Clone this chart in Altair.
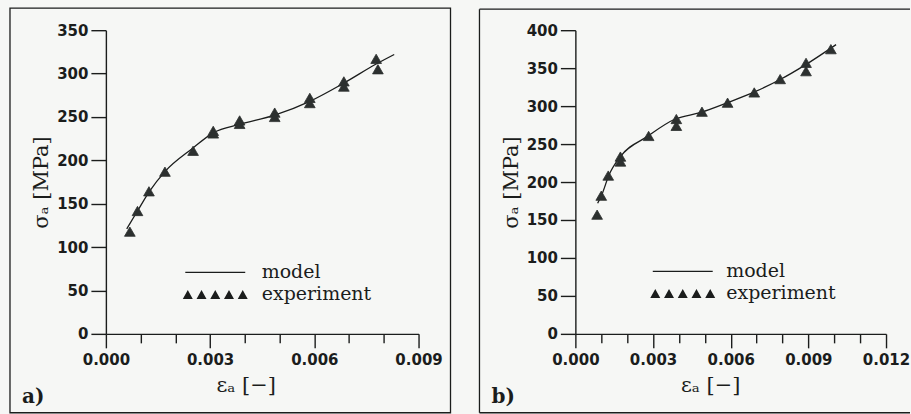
import altair as alt
import pandas as pd

# ---------------- data ----------------
# panel a
eps_a_model = [0.0006, 0.0009, 0.00125, 0.0017, 0.0025, 0.0031, 0.00385, 0.00486, 0.00587, 0.00685, 0.00778, 0.0083]
sig_a_model = [121, 141, 164, 187, 214, 232, 241.5, 252, 268, 289, 311, 322]
eps_a_exp = [0.00069, 0.00091, 0.00124, 0.0017, 0.00251, 0.00309, 0.00309, 0.00385, 0.00385,
             0.00486, 0.00486, 0.00587, 0.00587, 0.00685, 0.00685, 0.00778, 0.00783]
sig_a_exp = [117.8, 141.6, 164.3, 186.9, 211, 234, 231, 246, 242,
             255, 250, 272, 266, 291, 285, 317, 305]

# panel b
eps_b_model = [0.00086, 0.00103, 0.00129, 0.00174, 0.00277, 0.00386, 0.00482, 0.00591, 0.00694, 0.00791, 0.00887, 0.01007]
sig_b_model = [172, 184, 208.5, 233.5, 259.8, 283, 291.3, 304.9, 319, 335, 354, 381]
eps_b_exp = [0.00084, 0.001, 0.00127, 0.00174, 0.00174, 0.00283, 0.0039, 0.0039, 0.00489,
             0.00588, 0.00691, 0.00791, 0.00891, 0.00891, 0.00987]
sig_b_exp = [157, 182, 208.5, 233.5, 227, 260.7, 283, 274, 292.6,
             304.5, 318, 335.6, 357, 346, 375]

x_ticks_a = [0.000, 0.001, 0.002, 0.003, 0.004, 0.005, 0.006, 0.007, 0.008, 0.009]
x_ticks_b = [0.000, 0.001, 0.002, 0.003, 0.004, 0.005, 0.006, 0.007, 0.008, 0.009, 0.010, 0.011, 0.012]
y_ticks_a = [0, 50, 100, 150, 200, 250, 300, 350]
y_ticks_b = [0, 50, 100, 150, 200, 250, 300, 350, 400]

legend_labels = ["model", "experiment"]
panel_labels = ["a)", "b)"]

# ---------------- styling ----------------
INK = "#1b1d1c"
TRI_FILL = "#2c302f"
tri_centers = [-5.5, -2.75, 0, 2.75, 5.5]
TRI_PATH = "".join(f"M{c-1.0},0.9L{c},-0.9L{c+1.0},0.9Z" for c in tri_centers)
LINE_PATH = "M-6,-0.13L6,-0.13L6,0.13L-6,0.13Z"

MAJOR_TEST = "round(datum.value*1000) % 3 == 0"
LABEL_EXPR = f"({MAJOR_TEST}) ? format(datum.value, '.3f') : ''"


def panel(eps_m, sig_m, eps_e, sig_e, xmax, ymax, xticks, yticks, w, h,
          label, frame, legend_x, legend_y, label_offset, title_x):
    x_scale = alt.Scale(domain=[0, xmax], nice=False)
    y_scale = alt.Scale(domain=[0, ymax], nice=False)
    x_axis = alt.Axis(values=xticks, labelExpr=LABEL_EXPR,
                      tickSize={"condition": {"test": MAJOR_TEST, "value": 14}, "value": 9},
                      labelPadding=5,
                      title="εₐ [−]", titleX=title_x, titlePadding=7, grid=False,
                      labelFlush=False, labelOverlap=False)
    y_axis = alt.Axis(values=yticks, tickSize=15, labelPadding=3, title="σₐ [MPa]",
                      titlePadding=5, grid=False, labelFlush=False)

    model_df = pd.DataFrame({"eps": eps_m, "sig": sig_m})
    exp_df = pd.DataFrame({"eps": eps_e, "sig": sig_e})

    line = alt.Chart(model_df).mark_line(interpolate="monotone", color=INK, strokeWidth=1.3).encode(
        x=alt.X("eps:Q", scale=x_scale, axis=x_axis),
        y=alt.Y("sig:Q", scale=y_scale, axis=y_axis),
    )
    pts = alt.Chart(exp_df).mark_point(shape="triangle-up", filled=True, fill=TRI_FILL,
                                       stroke=TRI_FILL, strokeWidth=0.8, size=115, opacity=1).encode(
        x=alt.X("eps:Q", scale=x_scale, axis=x_axis),
        y=alt.Y("sig:Q", scale=y_scale, axis=y_axis),
    )
    leg = alt.Chart(pd.DataFrame({"series": legend_labels})).mark_point(
        filled=True, fill=INK, stroke=INK, strokeWidth=1.0, clip=True, opacity=1
    ).encode(
        x=alt.value(-500), y=alt.value(-500),
        shape=alt.Shape("series:N",
                        scale=alt.Scale(domain=legend_labels, range=[LINE_PATH, TRI_PATH]),
                        legend=alt.Legend(title=None, orient="none", legendX=legend_x, legendY=legend_y,
                                          symbolSize=100, symbolStrokeWidth=1.0,
                                          symbolStrokeColor=INK, symbolFillColor=INK,
                                          labelFont="DejaVu Serif", labelFontSize=19,
                                          labelColor=INK, labelOffset=label_offset, padding=0,
                                          rowPadding=2)),
    )
    txt = alt.Chart(pd.DataFrame({"lab": [label]})).mark_text(
        font="DejaVu Serif", fontSize=20, fontWeight="bold", align="left",
        baseline="alphabetic", color=INK
    ).encode(x=alt.value(-84), y=alt.value(373), text="lab:N")

    return alt.layer(*frame, line, pts, leg, txt).properties(width=w, height=h)


one = pd.DataFrame({"k": [0]})
frame_a = [alt.Chart(one).mark_rect(fillOpacity=0, stroke=INK, strokeWidth=1.3).encode(
    x=alt.value(-96), x2=alt.value(345), y=alt.value(-22), y2=alt.value(383))]
frame_b = [
    alt.Chart(one).mark_rule(stroke=INK, strokeWidth=1.3).encode(
        x=alt.value(-96), x2=alt.value(335), y=alt.value(-21)),
    alt.Chart(one).mark_rule(stroke=INK, strokeWidth=1.3).encode(
        x=alt.value(-96), y=alt.value(-21), y2=alt.value(383)),
    alt.Chart(one).mark_rule(stroke=INK, strokeWidth=1.3).encode(
        x=alt.value(-96), x2=alt.value(335), y=alt.value(383)),
]

pa = panel(eps_a_model, sig_a_model, eps_a_exp, sig_a_exp, 0.009, 350, x_ticks_a, y_ticks_a,
           313, 304, panel_labels[0], frame_a, 100, 233, 37, 140)
pb = panel(eps_b_model, sig_b_model, eps_b_exp, sig_b_exp, 0.012, 400, x_ticks_b, y_ticks_b,
           311, 304, panel_labels[1], frame_b, 98, 232, 34, 135)

chart = alt.hconcat(pa, pb, spacing=27).resolve_scale(
    x="independent", y="independent", shape="independent"
).resolve_legend(shape="independent").configure(
    padding={"left": 9, "top": 7, "right": 0, "bottom": 0},
    background="#f6f7f5",
).configure_view(strokeWidth=0).configure_axis(
    domainColor=INK, domainWidth=1.4, tickColor=INK, tickWidth=1.4,
    labelFont="DejaVu Sans", labelFontSize=15, labelFontWeight="bold", labelColor=INK,
    titleFont="DejaVu Serif", titleFontSize=21, titleFontWeight="normal", titleColor=INK,
)

chart.save("out.html", embed_options={"renderer": "svg", "actions": False})
